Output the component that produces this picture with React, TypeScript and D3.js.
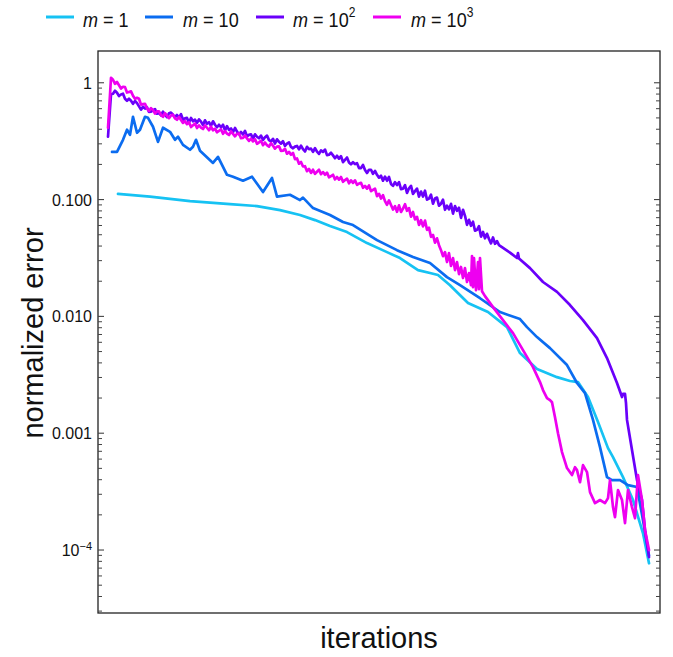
import React from "react";
import * as d3 from "d3";

// ---------- data (iteration, normalized error) ----------
const seriesKeys = ["m1", "m10", "m100", "m1000"];
const legendBase = ["1", "10", "10", "10"];
const legendSup = ["", "", "2", "3"];
const seriesColors = ["#16c2f3", "#0b6cf0", "#6a00fa", "#ee00f0"];

const m1Data: [number, number][] = [
  [20, 0.112], [52, 0.106], [92, 0.0971], [132, 0.0915], [159, 0.088], [182, 0.0813],
  [202, 0.0737], [217, 0.0667], [232, 0.0593], [249, 0.0527], [269, 0.0424], [289, 0.0355],
  [302, 0.0316], [320, 0.0249], [332, 0.0235], [340, 0.0226], [352, 0.0185], [370, 0.013],
  [390, 0.0109], [409, 0.0081], [414, 0.00665], [422, 0.00485], [439, 0.00354], [459, 0.00302],
  [472, 0.0028], [480, 0.00274], [490, 0.00204], [500, 0.00125], [510, 0.000745], [515, 0.000624],
  [525, 0.000421], [535, 0.000268], [545, 0.000139], [551, 7.7e-5],
];

const m10Data: [number, number][] = [
  [14, 0.256], [19, 0.256], [25, 0.325], [29, 0.396], [32, 0.359], [35, 0.511], [39, 0.373],
  [42, 0.396], [47, 0.511], [50, 0.501], [55, 0.42], [60, 0.312], [65, 0.412], [72, 0.38],
  [77, 0.325], [80, 0.345], [85, 0.294], [92, 0.267], [95, 0.283], [98, 0.325], [102, 0.262],
  [115, 0.206], [120, 0.232], [129, 0.163], [135, 0.157], [145, 0.145], [154, 0.157],
  [165, 0.116], [174, 0.153], [179, 0.106], [192, 0.11], [202, 0.099], [205, 0.104],
  [215, 0.0845], [232, 0.0737], [245, 0.0642], [255, 0.0605], [279, 0.045], [299, 0.0369],
  [315, 0.0322], [332, 0.0286], [349, 0.0217], [362, 0.0185], [382, 0.0143], [402, 0.0109],
  [422, 0.00948], [429, 0.0081], [439, 0.00665], [452, 0.00535], [469, 0.00383], [479, 0.00269],
  [487, 0.0022], [495, 0.0013], [502, 0.00076], [509, 0.000421], [514, 0.000397], [522, 0.000397],
  [530, 0.000359], [539, 0.000346], [545, 0.00018], [551, 9.0e-5],
];

const m100Data: [number, number][] = [
  [10, 0.345], [13, 0.8], [15, 0.805], [17, 0.854], [19, 0.821], [21, 0.77], [23, 0.794],
  [25, 0.805], [27, 0.729], [29, 0.701], [31, 0.729], [33, 0.701], [35, 0.661], [37, 0.698],
  [39, 0.669], [41, 0.628], [43, 0.589], [45, 0.623], [47, 0.602], [49, 0.618], [51, 0.563],
  [53, 0.565], [55, 0.58], [57, 0.595], [59, 0.543], [61, 0.55], [63, 0.527], [65, 0.566],
  [67, 0.532], [69, 0.508], [71, 0.548], [73, 0.555], [75, 0.532], [77, 0.505], [79, 0.53],
  [81, 0.503], [83, 0.538], [85, 0.483], [87, 0.496], [89, 0.5], [91, 0.457], [93, 0.5],
  [95, 0.468], [97, 0.483], [99, 0.453], [101, 0.486], [103, 0.465], [105, 0.434], [107, 0.477],
  [109, 0.446], [111, 0.459], [113, 0.428], [115, 0.468], [117, 0.437], [119, 0.416], [121, 0.437],
  [123, 0.416], [125, 0.437], [127, 0.391], [129, 0.425], [131, 0.395], [133, 0.406], [135, 0.377],
  [137, 0.41], [139, 0.382], [141, 0.362], [143, 0.379], [145, 0.361], [147, 0.387], [149, 0.348],
  [151, 0.358], [153, 0.362], [155, 0.331], [157, 0.362], [159, 0.345], [161, 0.335], [163, 0.353],
  [165, 0.324], [167, 0.342], [169, 0.353], [171, 0.323], [173, 0.315], [175, 0.331], [177, 0.302],
  [179, 0.328], [181, 0.312], [183, 0.301], [185, 0.316], [187, 0.288], [189, 0.301], [191, 0.309],
  [193, 0.282], [195, 0.275], [197, 0.284], [199, 0.288], [201, 0.269], [203, 0.289], [205, 0.27],
  [207, 0.258], [209, 0.283], [211, 0.27], [213, 0.273], [215, 0.256], [217, 0.275], [219, 0.257],
  [221, 0.246], [223, 0.264], [225, 0.256], [227, 0.268], [229, 0.24], [231, 0.242], [233, 0.252],
  [235, 0.239], [237, 0.226], [239, 0.237], [241, 0.224], [243, 0.235], [245, 0.209], [247, 0.219],
  [249, 0.229], [251, 0.208], [253, 0.2], [255, 0.209], [257, 0.201], [259, 0.205], [261, 0.186],
  [263, 0.186], [265, 0.198], [267, 0.179], [269, 0.169], [271, 0.18], [273, 0.18], [275, 0.166],
  [277, 0.176], [279, 0.163], [281, 0.154], [283, 0.16], [285, 0.145], [287, 0.157], [289, 0.145],
  [291, 0.156], [293, 0.136], [295, 0.131], [297, 0.141], [299, 0.133], [301, 0.141], [303, 0.123],
  [305, 0.124], [307, 0.133], [309, 0.114], [311, 0.125], [313, 0.131], [315, 0.112], [317, 0.118],
  [319, 0.124], [321, 0.106], [323, 0.117], [325, 0.106], [327, 0.119], [329, 0.0998], [331, 0.102],
  [333, 0.11], [335, 0.0922], [337, 0.102], [339, 0.104], [341, 0.0886], [343, 0.0922], [345, 0.0998],
  [347, 0.0818], [349, 0.0886], [351, 0.0825], [353, 0.0919], [355, 0.0759], [357, 0.088], [359, 0.0802],
  [361, 0.0851], [363, 0.0698], [365, 0.0818], [367, 0.0726], [369, 0.0608], [371, 0.0671], [373, 0.0597],
  [375, 0.0646], [377, 0.0541], [379, 0.0551], [381, 0.0592], [383, 0.0482], [385, 0.0528], [387, 0.0466],
  [389, 0.0509], [391, 0.046], [393, 0.0422], [395, 0.0474], [397, 0.0418], [399, 0.0441], [401, 0.0407],
  [412, 0.0351], [419, 0.0316], [420, 0.0348], [421, 0.0313], [432, 0.0259], [445, 0.0197],
  [459, 0.0162], [472, 0.0125], [485, 0.0093], [499, 0.00652], [509, 0.0044], [519, 0.00269],
  [524, 0.00204], [525, 0.00217], [527, 0.00217], [528, 0.00181], [529, 0.0013], [534, 0.000717],
  [539, 0.000397], [544, 0.000268], [547, 0.000148], [551, 8.7e-5],
];

const m1000Data: [number, number][] = [
  [10, 0.412], [12, 0.789], [13, 1.104], [15, 1.061], [17, 0.98], [19, 1.014], [21, 0.952],
  [23, 0.892], [25, 0.924], [27, 0.917], [29, 0.824], [31, 0.834], [33, 0.844], [35, 0.774],
  [37, 0.729], [39, 0.744], [41, 0.729], [43, 0.65], [45, 0.656], [47, 0.661], [49, 0.604],
  [51, 0.574], [53, 0.606], [55, 0.585], [57, 0.544], [59, 0.568], [61, 0.57], [63, 0.53],
  [65, 0.511], [67, 0.549], [69, 0.523], [71, 0.498], [73, 0.525], [75, 0.531], [77, 0.496],
  [79, 0.482], [81, 0.51], [83, 0.481], [85, 0.453], [87, 0.47], [89, 0.442], [91, 0.459],
  [93, 0.418], [95, 0.433], [97, 0.447], [99, 0.41], [101, 0.432], [103, 0.413], [105, 0.402],
  [107, 0.432], [109, 0.412], [111, 0.392], [113, 0.42], [115, 0.392], [117, 0.404], [119, 0.377],
  [121, 0.388], [123, 0.4], [125, 0.366], [127, 0.385], [129, 0.367], [131, 0.357], [133, 0.383],
  [135, 0.365], [137, 0.348], [139, 0.366], [141, 0.368], [143, 0.335], [145, 0.337], [147, 0.353],
  [149, 0.334], [151, 0.318], [153, 0.332], [155, 0.315], [157, 0.329], [159, 0.3], [161, 0.309],
  [163, 0.319], [165, 0.292], [167, 0.308], [169, 0.292], [171, 0.284], [173, 0.304], [175, 0.289],
  [177, 0.273], [179, 0.284], [181, 0.286], [183, 0.261], [185, 0.262], [187, 0.272], [189, 0.247],
  [191, 0.256], [193, 0.242], [195, 0.251], [197, 0.222], [199, 0.225], [201, 0.203], [203, 0.21],
  [205, 0.192], [207, 0.193], [209, 0.175], [211, 0.183], [213, 0.169], [215, 0.18], [217, 0.166],
  [219, 0.173], [221, 0.18], [223, 0.165], [225, 0.172], [227, 0.163], [229, 0.17], [231, 0.155],
  [233, 0.159], [235, 0.163], [237, 0.149], [239, 0.156], [241, 0.148], [243, 0.156], [245, 0.142],
  [247, 0.147], [249, 0.151], [251, 0.138], [253, 0.146], [255, 0.139], [257, 0.146], [259, 0.134],
  [261, 0.137], [263, 0.139], [265, 0.126], [267, 0.131], [269, 0.124], [271, 0.132], [273, 0.118],
  [275, 0.121], [277, 0.124], [279, 0.107], [281, 0.112], [283, 0.102], [285, 0.109], [287, 0.0971],
  [289, 0.0903], [291, 0.0984], [293, 0.0899], [295, 0.0821], [297, 0.0879], [299, 0.0786],
  [301, 0.0892], [303, 0.0783], [305, 0.0837], [307, 0.0913], [309, 0.0802], [311, 0.0844],
  [313, 0.0715], [315, 0.0783], [317, 0.0677], [319, 0.0712], [321, 0.0606], [323, 0.0666],
  [325, 0.0589], [327, 0.0661], [329, 0.0551], [331, 0.0574], [333, 0.048], [335, 0.0499],
  [337, 0.0428], [339, 0.0466], [341, 0.0407], [343, 0.0369], [345, 0.0328], [347, 0.0355],
  [349, 0.0292], [351, 0.0348], [353, 0.027], [355, 0.0316], [357, 0.0249], [359, 0.0292],
  [361, 0.023], [363, 0.0265], [365, 0.0213], [367, 0.0259], [369, 0.0197], [371, 0.0235],
  [373, 0.0185], [374, 0.0328], [375, 0.0178], [376, 0.0316], [378, 0.0168], [380, 0.0292],
  [381, 0.0171], [382, 0.0316], [384, 0.0164], [387, 0.0149], [395, 0.012], [405, 0.0093],
  [415, 0.00719], [425, 0.00514], [435, 0.00368], [442, 0.00274], [445, 0.00234], [449, 0.002],
  [452, 0.00192], [454, 0.00184], [457, 0.00137], [460, 0.001], [464, 0.000689], [469, 0.000503],
  [474, 0.000438], [477, 0.000512], [479, 0.000483], [482, 0.000381], [485, 0.000533],
  [489, 0.000465], [492, 0.000313], [497, 0.000252], [502, 0.000268], [507, 0.000252],
  [510, 0.000278], [512, 0.000397], [515, 0.000233], [517, 0.000191], [520, 0.000326],
  [524, 0.000268], [527, 0.00017], [530, 0.000326], [534, 0.000233], [537, 0.000187],
  [540, 0.000438], [544, 0.000268], [547, 0.000148], [551, 0.0001],
];

const allSeries = [m1Data, m10Data, m100Data, m1000Data];

const majorTickValues = [1, 0.1, 0.01, 0.001, 1e-4];
const majorTickLabels = ["1", "0.100", "0.010", "0.001", "10"];
const majorTickSups = ["", "", "", "", "\u22124"];

const xLabel = "iterations";
const yLabel = "normalized error";

// ---------- layout ----------
const W = 673;
const H = 657;
const L = 98, R = 660, T = 51, B = 613;
const FONT = "'Liberation Sans', Arial, Helvetica, sans-serif";

export default function App() {
  const x = d3.scaleLinear().domain([0, 562]).range([L, R]);
  const y = d3.scaleLog().domain([2.89e-5, 1.87]).range([B, T]);
  const [y0, y1] = y.domain();

  const minorTicks: number[] = [];
  for (let e = -5; e <= 0; e++) {
    for (let k = 2; k <= 9; k++) {
      const v = k * Math.pow(10, e);
      if (v >= y0 && v <= y1) minorTicks.push(v);
    }
  }

  const line = d3
    .line<[number, number]>()
    .x((d) => x(d[0]))
    .y((d) => y(d[1]));

  const legendLineX = [46, 145, 256, 373];
  const legendTextX = [83, 183, 293, 411];

  return (
    <svg width={W} height={H} style={{ display: "block", position: "absolute", left: 0, top: 0 }} fontFamily={FONT}>
      <rect x={0} y={0} width={W} height={H} fill="#fff" />
      <defs>
        <clipPath id="plotclip">
          <rect x={L} y={T} width={R - L} height={B - T} />
        </clipPath>
      </defs>

      {/* legend */}
      {seriesKeys.map((k, i) => (
        <g key={k}>
          <line x1={legendLineX[i]} x2={legendLineX[i] + 28} y1={17} y2={17} stroke={seriesColors[i]} strokeWidth={3} />
          <g transform={`translate(${legendTextX[i]},27) scale(0.86,1)`}>
            <text x={0} y={0} fontSize={21} fill="#111">
              <tspan fontStyle="italic">m</tspan>
              <tspan>{" = " + legendBase[i]}</tspan>
              {legendSup[i] && (
                <tspan fontSize={14} dy={-10}>{legendSup[i]}</tspan>
              )}
            </text>
          </g>
        </g>
      ))}

      {/* series */}
      <g clipPath="url(#plotclip)">
        {allSeries.map((s, i) => (
          <path key={i} d={line(s) || ""} fill="none" stroke={seriesColors[i]} strokeWidth={2.7} strokeLinejoin="round" strokeLinecap="round" />
        ))}
      </g>

      {/* frame */}
      <rect x={L} y={T} width={R - L} height={B - T} fill="none" stroke="#222" strokeWidth={1.3} />

      {/* ticks */}
      {majorTickValues.map((v, i) => (
        <g key={"M" + i}>
          <line x1={L} x2={L + 6} y1={y(v)} y2={y(v)} stroke="#444" strokeWidth={1.1} />
          <line x1={R} x2={R - 6} y1={y(v)} y2={y(v)} stroke="#444" strokeWidth={1.1} />
          <text x={L - 6} y={y(v) + 6} fontSize={16} textAnchor="end" fill="#111">
            {majorTickLabels[i]}
            {majorTickSups[i] && (
              <tspan fontSize={11} dy={-6}>{majorTickSups[i]}</tspan>
            )}
          </text>
        </g>
      ))}
      {minorTicks.map((v, i) => (
        <g key={"m" + i}>
          <line x1={L} x2={L + 4} y1={y(v)} y2={y(v)} stroke="#444" strokeWidth={1} />
          <line x1={R} x2={R - 4} y1={y(v)} y2={y(v)} stroke="#444" strokeWidth={1} />
        </g>
      ))}

      {/* axis labels */}
      <text x={(L + R) / 2} y={648} fontSize={29} textAnchor="middle" fill="#111">{xLabel}</text>
      <text transform={`translate(43,333) rotate(-90)`} fontSize={29} textAnchor="middle" fill="#111">{yLabel}</text>
    </svg>
  );
}
